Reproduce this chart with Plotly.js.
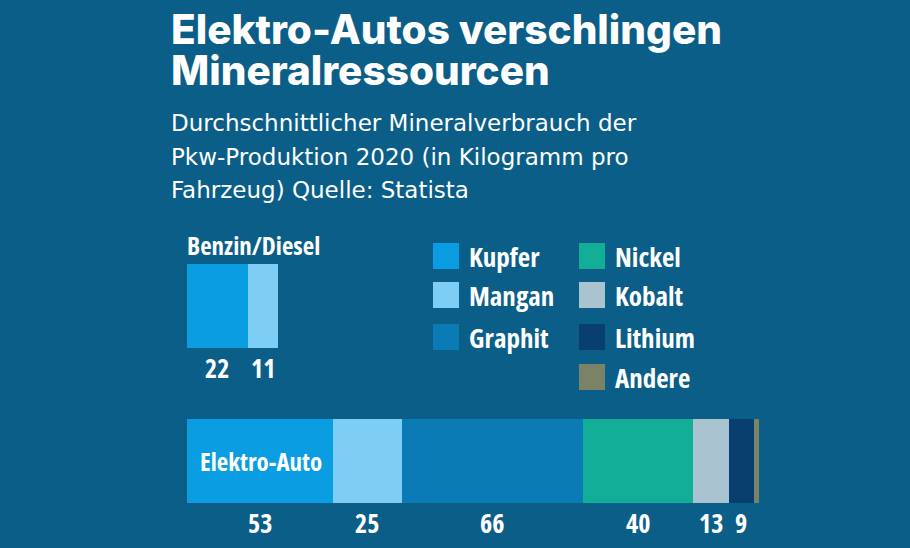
<!DOCTYPE html>
<html>
<head>
<meta charset="utf-8">
<script src="https://cdn.plot.ly/plotly-3.0.1.min.js"></script>
<style>
html,body{margin:0;padding:0;background:#0a5e87;}
text.annotation-text[style*="Open Sans"]{font-stretch:condensed;}
</style>
</head>
<body>
<div id="chart" style="width:910px;height:548px;"></div>
<script>
const categories = ['Benzin/Diesel', 'Elektro-Auto'];
const minerals = ['Kupfer', 'Mangan', 'Graphit', 'Nickel', 'Kobalt', 'Lithium', 'Andere'];
const benzinValues = [22, 11, 0, 0, 0, 0, 0];
const elektroValues = [53, 25, 66, 40, 13, 9, 2];
const benzinLabels = ['22', '11', '', '', '', '', ''];
const elektroLabels = ['53', '25', '66', '40', '13', '9', ''];
const mineralColors = ['#0b9de2', '#7ecdf4', '#0a7bb5', '#12ae98', '#a9c3d1', '#083f6f', '#7b8366'];
const titleLines = ['Elektro-Autos verschlingen', 'Mineralressourcen'];
const subtitleLines = ['Durchschnittlicher Mineralverbrauch der', 'Pkw-Produktion 2020 (in Kilogramm pro', 'Fahrzeug) Quelle: Statista'];

const BG = '#0a5e87';
const W = 910, H = 548;
const L = 187, R = 759, T = 228, B = 539;
const PW = R - L, PH = B - T;
const px = v => (v - L) / PW;
const py = v => (B - v) / PH;
const cond = (size) => ({family: 'Open Sans, sans-serif', size: size, color: '#ffffff', weight: 'bold'});

const traces = minerals.map((m, i) => ({
  type: 'bar',
  orientation: 'h',
  name: m,
  y: categories,
  x: [benzinValues[i], elektroValues[i]],
  width: 0.54,
  marker: {color: mineralColors[i], line: {width: 0}},
  showlegend: false,
  hovertemplate: '%{y}<br>' + m + ': %{x} kg<extra></extra>'
}));

const annotations = [];
// value labels under segments
[[benzinValues, benzinLabels, categories[0]], [elektroValues, elektroLabels, categories[1]]].forEach(([vals, labs, cat]) => {
  let cum = 0;
  vals.forEach((v, i) => {
    if (v > 0 && labs[i]) {
      annotations.push({
        x: cum + v / 2, y: cat, xref: 'x', yref: 'y',
        text: labs[i], showarrow: false, yshift: -62,
        font: cond(26)
      });
    }
    cum += v;
  });
});
// category labels
annotations.push({
  x: px(185), y: py(245), xref: 'paper', yref: 'paper', xanchor: 'left', yanchor: 'middle',
  text: categories[0], showarrow: false, font: cond(25)
});
annotations.push({
  x: px(198), y: categories[1], xref: 'paper', yref: 'y', xanchor: 'left', yanchor: 'middle',
  text: categories[1], showarrow: false, font: cond(25)
});
// title + subtitle
titleLines.forEach((t, i) => {
  annotations.push({
    x: px(169), y: py(29 + i * 42), xref: 'paper', yref: 'paper', xanchor: 'left', yanchor: 'middle',
    text: t, showarrow: false,
    font: {family: 'Inter, sans-serif', size: 40.5, color: '#ffffff', weight: 800}
  });
});
subtitleLines.forEach((t, i) => {
  annotations.push({
    x: px(169), y: py(123 + i * 33.5), xref: 'paper', yref: 'paper', xanchor: 'left', yanchor: 'middle',
    text: t, showarrow: false,
    font: {family: 'DejaVu Sans, sans-serif', size: 23, color: '#ffffff'}
  });
});

// legend (two columns, drawn as swatches + labels)
const shapes = [];
const legendCols = [[0, 1, 2], [3, 4, 5, 6]];
const colX = [433, 579];
const rowY = [256, 295, 337, 377];
legendCols.forEach((col, c) => {
  col.forEach((mi, r) => {
    const cy = rowY[r];
    shapes.push({
      type: 'rect', xref: 'paper', yref: 'paper',
      x0: px(colX[c]), x1: px(colX[c] + 26), y0: py(cy + 13), y1: py(cy - 13),
      fillcolor: mineralColors[mi], line: {width: 0}
    });
    annotations.push({
      x: px(colX[c] + 34), y: py(cy), xref: 'paper', yref: 'paper', xanchor: 'left', yanchor: 'middle',
      text: minerals[mi], showarrow: false, font: cond(27)
    });
  });
});

const layout = {
  width: W, height: H,
  paper_bgcolor: BG, plot_bgcolor: BG,
  margin: {l: L, r: W - R, t: T, b: H - B, pad: 0},
  barmode: 'stack',
  showlegend: false,
  xaxis: {range: [0, 208], visible: false, fixedrange: true},
  yaxis: {type: 'category', categoryorder: 'array', categoryarray: categories, range: [1.5, -0.5], visible: false, fixedrange: true},
  annotations: annotations,
  shapes: shapes
};

Plotly.newPlot('chart', traces, layout, {displayModeBar: false, responsive: false});
</script>
</body>
</html>
